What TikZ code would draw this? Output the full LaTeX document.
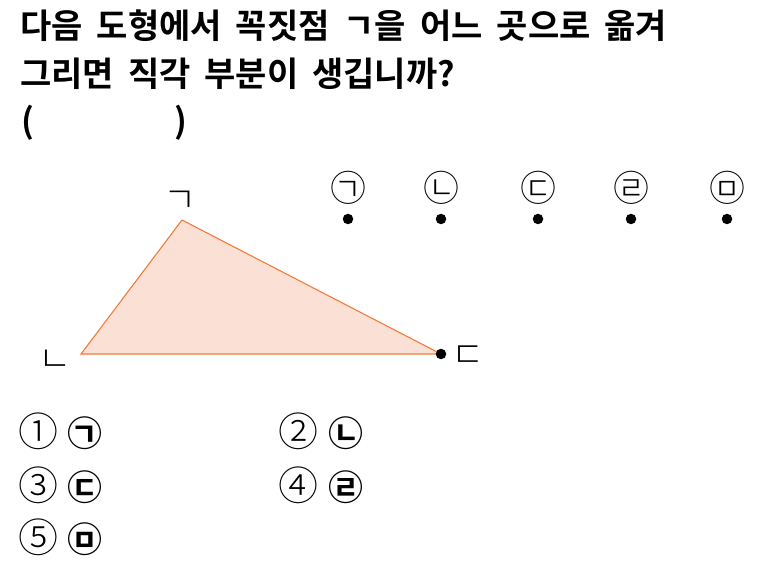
\documentclass[tikz,border=0pt]{standalone}
\usepackage{fontspec}
\newfontfamily\krb{Noto Sans CJK KR Bold}
\newfontfamily\krl{Noto Sans CJK KR Light}
\newcommand\widesp{\spaceskip=14pt\relax}
\definecolor{triFill}{HTML}{FBE1D5}
\definecolor{triLine}{HTML}{F47A3C}
\begin{document}
\begin{tikzpicture}[x=1pt,y=-1pt,
  title/.style={anchor=base west,inner sep=0pt,font=\krb\fontsize{34}{38}\selectfont\widesp},
  vlabel/.style={inner sep=0pt,font=\krl\fontsize{36}{40}\selectfont},
  clabel/.style={inner sep=0pt,font=\krl\fontsize{36}{40}\selectfont},
  dotpt/.style={circle,fill=black,inner sep=0pt,minimum size=10.5pt},
  numlab/.style={inner sep=0pt,font=\krl\fontsize{40}{44}\selectfont},
  anslab/.style={inner sep=0pt,font=\krb\fontsize{35}{38}\selectfont}]
\useasboundingbox (0,0) rectangle (757,577);
\node[title] (t1) at (20,39) {다음 도형에서 꼭짓점 ㄱ을 어느 곳으로 옮겨};
\node[title] (t2) at (20,87) {그리면 직각 부분이 생깁니까?};
\node[title] (t3) at (21,134) {(};
\node[title] (t4) at (174,134) {)};
% triangle
\coordinate (A) at (182,220);
\coordinate (B) at (81,354);
\coordinate (C) at (441,354);
\filldraw[fill=triFill,draw=triLine,line width=1.1pt,line join=miter] (A) -- (B) -- (C) -- cycle;
\node[dotpt] (dC) at (C) {};
\node[vlabel] (lA) at (180,202) {ㄱ};
\node[vlabel] (lB) at (55,361) {ㄴ};
\node[vlabel] (lC) at (468,357) {ㄷ};
% candidate points
\foreach \x/\c/\n in {348/㉠/p1,441/㉡/p2,538/㉢/p3,631/㉣/p4,727/㉤/p5}{
  \node[clabel] (\n l) at (\x,188) {\c};
  \node[dotpt] (\n) at (\x,219) {};
}
% answers
\node[numlab] (n1) at (38,431) {①};
\node[anslab] (a1) at (85,433) {㉠};
\node[numlab] (n2) at (298,431) {②};
\node[anslab] (a2) at (346,433) {㉡};
\node[numlab] (n3) at (38,485) {③};
\node[anslab] (a3) at (85,487) {㉢};
\node[numlab] (n4) at (298,485) {④};
\node[anslab] (a4) at (346,487) {㉣};
\node[numlab] (n5) at (38,537) {⑤};
\node[anslab] (a5) at (85,539) {㉤};
\end{tikzpicture}
\end{document}
